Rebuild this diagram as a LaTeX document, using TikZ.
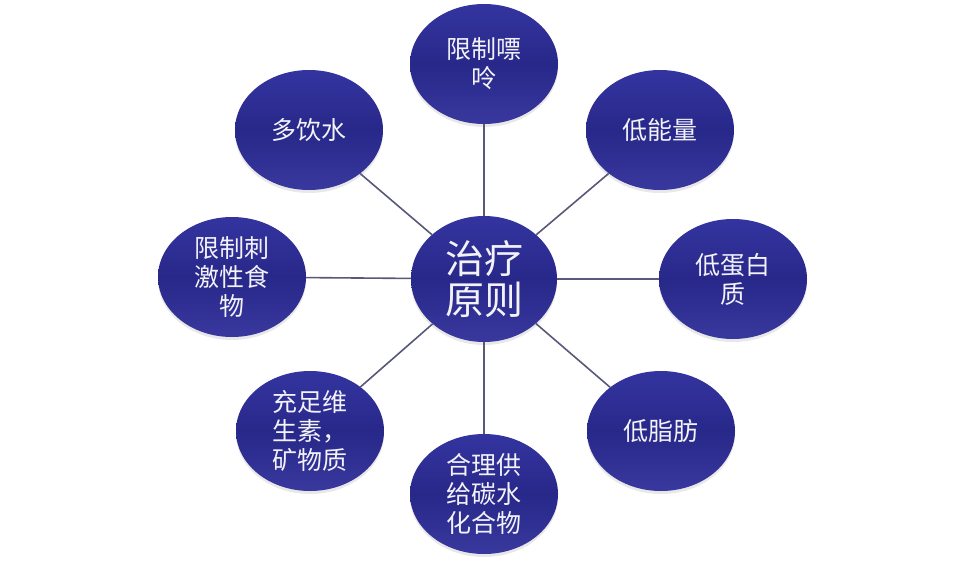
\documentclass[tikz,border=0pt]{standalone}
\usepackage{fontspec}
\setmainfont{Noto Sans CJK SC}
\usetikzlibrary{shapes.geometric,shadows}
\definecolor{topblue}{RGB}{52,52,160}
\definecolor{midblue}{RGB}{40,40,138}
\definecolor{botblue}{RGB}{56,56,158}
\definecolor{linkcol}{RGB}{88,88,120}
\definecolor{txtcol}{RGB}{242,242,248}
\tikzset{
  bubble/.style={ellipse, inner sep=0pt, minimum width=148pt, minimum height=120pt,
    top color=topblue, bottom color=botblue, middle color=midblue,
    draw=none, text=txtcol, align=center,
    drop shadow={opacity=0.18, shadow xshift=0pt, shadow yshift=-3pt},
    font=\fontsize{25}{29}\selectfont},
  hub/.style={bubble, minimum width=146pt, minimum height=126pt,
    font=\fontsize{39}{41}\selectfont},
  link/.style={draw=linkcol, line width=1.6pt}
}
\begin{document}
\begin{tikzpicture}[x=1pt,y=-1pt]
\useasboundingbox (0,0) rectangle (968,562);
\node[hub]    (c)  at (484,279) {治疗\\原则};
\node[bubble] (n)  at (484,64)  {限制嘌\\呤};
\node[bubble] (ne) at (660,130) {低能量};
\node[bubble] (e)  at (733,279) {低蛋白\\质};
\node[bubble] (se) at (661,431) {低脂肪};
\node[bubble] (s)  at (484,494) {合理供\\给碳水\\化合物};
\node[bubble] (sw) at (310,431) {充足维\\生素，\\矿物质};
\node[bubble] (w)  at (232,277) {限制刺\\激性食\\物};
\node[bubble] (nw) at (309,130) {多饮水};
\foreach \t in {n,ne,e,se,s,sw,w,nw}
  \draw[link] (c) -- (\t);
\end{tikzpicture}
\end{document}
